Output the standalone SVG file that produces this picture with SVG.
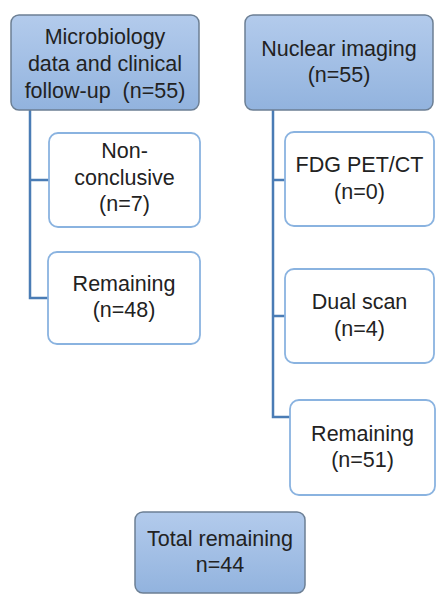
<svg xmlns="http://www.w3.org/2000/svg" width="436" height="595" viewBox="0 0 436 595">
<defs>
<linearGradient id="blueFill" x1="0" y1="0" x2="0" y2="1">
<stop offset="0" stop-color="#b3cbec"/>
<stop offset="1" stop-color="#92b3de"/>
</linearGradient>
<style>
.head{fill:url(#blueFill);stroke:#6c7f94;stroke-width:1.5}
.sub{fill:#ffffff;stroke:#8ab3e0;stroke-width:1.8}
.t{font-family:"Liberation Sans",Arial,sans-serif;font-size:21.5px;fill:#222;text-anchor:middle;white-space:pre}
.conn{fill:none;stroke:#4a7cb5;stroke-width:2.5}
</style>
</defs>
<rect width="436" height="595" fill="#ffffff"/>
<g id="connectors">
<path class="conn" d="M30 110 V298 H48 M30 180 H49"/>
<path class="conn" d="M273 110 V417 H290 M273 180 H285 M273 316 H285"/>
</g>
<g id="microbiology">
<rect class="head" x="11" y="15" width="188" height="95" rx="8"/>
<text class="t" x="105" y="44">Microbiology</text>
<text class="t" x="105" y="71">data and clinical</text>
<text class="t" x="105" y="98" xml:space="preserve">follow-up  (n=55)</text>
</g>
<g id="nonconclusive">
<rect class="sub" x="49" y="133" width="151" height="94" rx="9"/>
<text class="t" x="124.5" y="158">Non-</text>
<text class="t" x="124.5" y="185">conclusive</text>
<text class="t" x="124.5" y="211">(n=7)</text>
</g>
<g id="remaining48">
<rect class="sub" x="48" y="252" width="152" height="92" rx="9"/>
<text class="t" x="124" y="291">Remaining</text>
<text class="t" x="124" y="317">(n=48)</text>
</g>
<g id="nuclear">
<rect class="head" x="245" y="15" width="188" height="95" rx="8"/>
<text class="t" x="339" y="56">Nuclear imaging</text>
<text class="t" x="339" y="82">(n=55)</text>
</g>
<g id="fdg">
<rect class="sub" x="285" y="132" width="149" height="94" rx="9"/>
<text class="t" x="359.5" y="172">FDG PET/CT</text>
<text class="t" x="359.5" y="199">(n=0)</text>
</g>
<g id="dualscan">
<rect class="sub" x="285" y="269" width="149" height="94" rx="9"/>
<text class="t" x="359.5" y="309">Dual scan</text>
<text class="t" x="359.5" y="336">(n=4)</text>
</g>
<g id="remaining51">
<rect class="sub" x="290" y="400" width="145" height="95" rx="9"/>
<text class="t" x="362.5" y="441">Remaining</text>
<text class="t" x="362.5" y="467">(n=51)</text>
</g>
<g id="total">
<rect class="head" x="135" y="512" width="170" height="81" rx="8"/>
<text class="t" x="220" y="546">Total remaining</text>
<text class="t" x="220" y="572">n=44</text>
</g>
</svg>
